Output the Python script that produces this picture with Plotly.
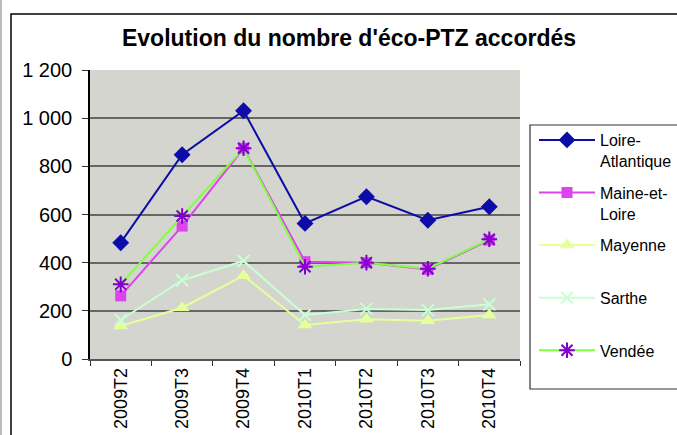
import plotly.graph_objects as go

categories = ["2009T2", "2009T3", "2009T4", "2010T1", "2010T2", "2010T3", "2010T4"]
loire_atlantique = [483, 848, 1031, 563, 674, 576, 632]
maine_et_loire = [262, 552, 875, 404, 400, 372, 494]
mayenne = [137, 213, 346, 141, 165, 159, 183]
sarthe = [162, 327, 407, 183, 208, 203, 227]
vendee = [310, 594, 875, 383, 400, 375, 497]
y_tickvals = [0, 200, 400, 600, 800, 1000, 1200]
y_ticktext = ["0", "200", "400", "600", "800", "1 000", "1 200"]

FONT = "Liberation Sans, Arial, sans-serif"

series = [
    ("Loire-<br>Atlantique", loire_atlantique, "#0C0CA8", "#0C0CA8", "diamond", 13, None),
    ("Maine-et-<br>Loire", maine_et_loire, "#DD44EE", "#DD44EE", "square", 11, None),
    ("Mayenne<br> ", mayenne, "#E5FF99", "#E5FF99", "triangle-up", 13, None),
    ("Sarthe<br> ", sarthe, "#C8FFD4", "#C8FFD4", "x-thin-open", 12, 2),
    ("Vendée<br> ", vendee, "#80FF40", "#8000CC", "asterisk-open", 13, 2),
]

fig = go.Figure()
for i, (name, vals, lcol, mcol, sym, size, mlw) in enumerate(series):
    marker = dict(symbol=sym, size=size, color=mcol)
    if mlw:
        marker["line"] = dict(color=mcol, width=mlw)
    else:
        marker["line"] = dict(width=0)
    fig.add_trace(go.Scatter(
        x=categories, y=vals, name=name, mode="lines+markers",
        line=dict(color=lcol, width=2), marker=marker,
        legendgroup=f"g{i}",
    ))

W, H = 677, 435
L, R, T, B = 90, 157, 70, 76
pw, ph = W - L - R, H - T - B

def px(x):
    return (x - L) / pw

def py(y):
    return (H - B - y) / ph

fig.update_layout(
    width=W, height=H,
    margin=dict(l=L, r=R, t=T, b=B, autoexpand=False),
    paper_bgcolor="white",
    plot_bgcolor="#D4D5CF",
    font=dict(family=FONT, color="black"),
    title=dict(text="<b>Evolution du nombre d'éco-PTZ accordés</b>",
               x=349 / W, xanchor="center", y=1 - 38 / H, yanchor="middle",
               font=dict(size=23, family=FONT, color="black")),
    showlegend=True,
    legend=dict(x=px(534), xanchor="left", y=py(123), yanchor="top",
                bgcolor="rgba(0,0,0,0)", borderwidth=0,
                font=dict(size=16, family=FONT, color="black"),
                traceorder="grouped", tracegroupgap=8, valign="top",
                itemwidth=56),
    xaxis=dict(type="category", range=[-0.5, 6.5], tickangle=-90,
               showgrid=False, showline=True, linecolor="#555555", linewidth=1.5,
               ticks="outside", tickson="boundaries", ticklen=5, tickcolor="#333333",
               automargin=False,
               tickfont=dict(size=18, family=FONT, color="black")),
    yaxis=dict(range=[0, 1200], tickvals=y_tickvals, ticktext=y_ticktext,
               showgrid=True, gridcolor="#666666", gridwidth=1.5,
               showline=True, linecolor="black", linewidth=1.5,
               ticks="outside", ticklen=6, tickcolor="#333333",
               ticklabelstandoff=6, automargin=False,
               zeroline=False,
               tickfont=dict(size=20, family=FONT, color="black")),
    shapes=[
        dict(type="rect", xref="paper", yref="paper",
             x0=px(11), x1=px(700), y0=py(14), y1=py(470),
             line=dict(color="black", width=1.5), fillcolor="rgba(0,0,0,0)", layer="below"),
        dict(type="line", xref="paper", yref="paper",
             x0=px(1), x1=px(1), y0=py(0), y1=py(440),
             line=dict(color="#BBBBBB", width=2)),
        dict(type="rect", xref="paper", yref="paper",
             x0=px(530), x1=px(700), y0=py(389), y1=py(125),
             line=dict(color="#333333", width=1.2), fillcolor="rgba(0,0,0,0)"),
    ],
)

fig.write_html("out.html", config={"displayModeBar": False},
               post_script="document.body.style.margin='0';document.body.style.overflow='hidden';")
